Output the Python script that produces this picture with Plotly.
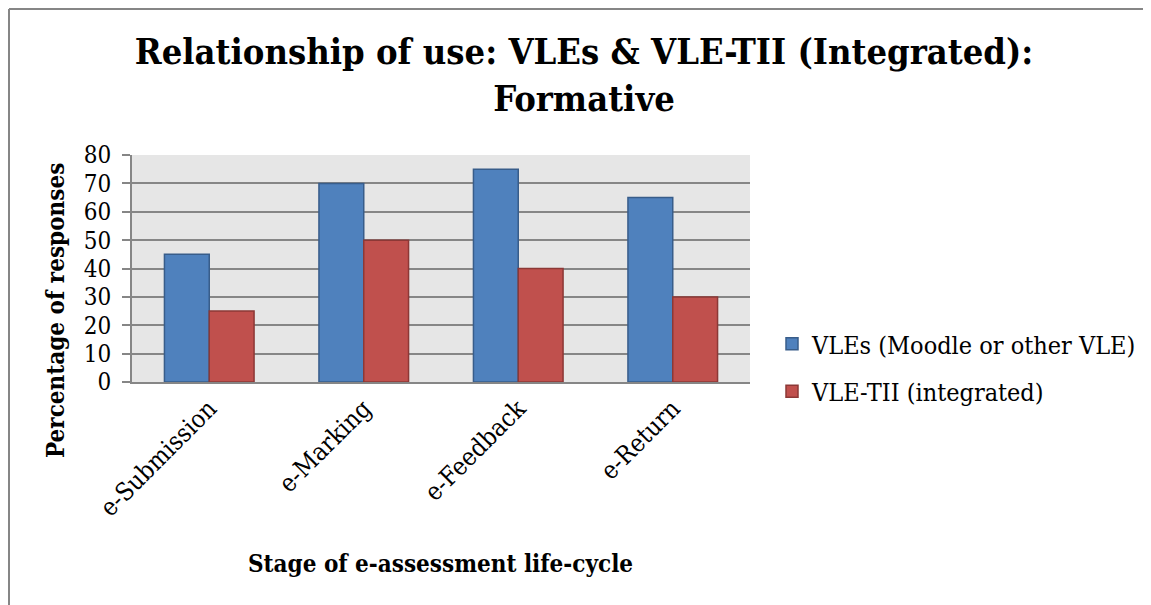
import plotly.graph_objects as go

# Chart data
stages = ["e-Submission", "e-Marking", "e-Feedback", "e-Return"]
vle_values = [45, 70, 75, 65]
vle_tii_values = [25, 50, 40, 30]
series_names = ["VLEs (Moodle or other VLE)", "VLE-TII (integrated)"]
y_ticks = [0, 10, 20, 30, 40, 50, 60, 70, 80]

SERIF = "DejaVu Serif Condensed, DejaVu Serif, serif"

# The page body has an 8px margin, so work in screen pixels and shift
OFF = 8
W, H = 1151 - OFF, 605 - OFF
# Plot area in screen pixels (from the reference)
PL, PR, PT, PB = 132, 750, 155, 382


def px_x(px):
    return (px - PL) / (PR - PL)


def px_y(py):
    return (PB - py) / (PB - PT)


fig = go.Figure()

fig.add_trace(go.Bar(
    x=stages,
    y=vle_values,
    name=series_names[0],
    marker=dict(color="#4F81BD", line=dict(color="#385D8A", width=1.5)),
    legendgroup="a",
))
fig.add_trace(go.Bar(
    x=stages,
    y=vle_tii_values,
    name=series_names[1],
    marker=dict(color="#C0504D", line=dict(color="#8C3836", width=1.5)),
    legendgroup="b",
))

fig.update_layout(
    width=W,
    height=H,
    margin=dict(l=PL - OFF, r=W - (PR - OFF), t=PT - OFF, b=H - (PB - OFF),
                autoexpand=False),
    paper_bgcolor="white",
    plot_bgcolor="#E6E6E6",
    barmode="group",
    bargap=0.42,
    bargroupgap=0,
    font=dict(family=SERIF, size=22, color="black"),
    title=dict(
        text="<b>Relationship of use: VLEs & VLE-TII (Integrated):<br>Formative</b>",
        x=(584 - OFF) / W,
        xanchor="center",
        y=1 - (64 - OFF) / H,
        yanchor="top",
        font=dict(family=SERIF, size=36, color="black"),
    ),
    legend=dict(
        x=px_x(772),
        xanchor="left",
        y=px_y(321),
        yanchor="top",
        traceorder="grouped",
        tracegroupgap=12,
        font=dict(family=SERIF, size=25, color="black"),
        bgcolor="rgba(0,0,0,0)",
    ),
    showlegend=True,
)

fig.update_xaxes(
    tickangle=-45,
    tickfont=dict(family=SERIF, size=25),
    showline=True,
    linecolor="#868686",
    linewidth=2,
    ticks="",
    showgrid=False,
)

fig.update_yaxes(
    range=[0, 80],
    tickvals=y_ticks,
    tickfont=dict(family=SERIF, size=24),
    ticklabelstandoff=6,
    showgrid=True,
    gridcolor="#868686",
    gridwidth=2,
    showline=True,
    linecolor="#868686",
    linewidth=2,
    ticks="outside",
    ticklen=8,
    tickwidth=2,
    tickcolor="#868686",
    zeroline=False,
)

# Axis titles placed as annotations to match the reference positions
fig.add_annotation(
    text="<b>Percentage of responses</b>",
    xref="paper", yref="paper",
    x=px_x(55), y=px_y(311),
    xanchor="center", yanchor="middle",
    textangle=-90,
    showarrow=False,
    font=dict(family=SERIF, size=24, color="black"),
)
fig.add_annotation(
    text="<b>Stage of e-assessment life-cycle</b>",
    xref="paper", yref="paper",
    x=px_x(440), y=px_y(563),
    xanchor="center", yanchor="middle",
    showarrow=False,
    font=dict(family=SERIF, size=24, color="black"),
)

# Chart border (top and left edges visible in the reference)
fig.add_shape(type="line", xref="paper", yref="paper",
              x0=px_x(OFF + 1), x1=px_x(1170), y0=px_y(OFF + 1), y1=px_y(OFF + 1),
              line=dict(color="#868686", width=2))
fig.add_shape(type="line", xref="paper", yref="paper",
              x0=px_x(OFF + 1), x1=px_x(OFF + 1), y0=px_y(OFF + 1), y1=px_y(640),
              line=dict(color="#868686", width=2))

fig.write_html("out.html")
